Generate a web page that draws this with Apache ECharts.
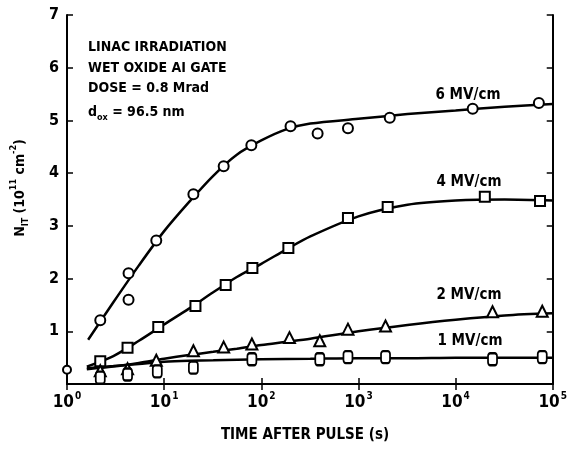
<!DOCTYPE html>
<html><head><meta charset="utf-8">
<script src="https://cdn.jsdelivr.net/npm/echarts@6/dist/echarts.min.js"></script>
<style>html,body{margin:0;padding:0;background:#fff}#c{width:570px;height:456px}</style>
</head><body><div id="c"></div>
<script>
const FONT = '"Liberation Sans Narrow","DejaVu Sans Condensed","Arial Narrow","Liberation Sans",sans-serif';

// tick labels
const xTickExponents = ['0','1','2','3','4','5'];
const yTickLabels = ['', '1', '2', '3', '4', '5', '6', '7'];

// measured points [time (s), N_IT (1e11 cm^-2)]
const pts6MV = [[2.2,1.21],[4.3,2.1],[4.3,1.6],[8.3,2.72],[20,3.6],[41,4.13],[79,4.53],[200,4.89],[380,4.75],[780,4.85],[2100,5.05],[15000,5.22],[72000,5.33]];
const pts4MV = [[2.2,0.43],[4.2,0.69],[8.7,1.08],[21,1.48],[43,1.88],[81,2.2],[190,2.58],[780,3.15],[2000,3.36],[20000,3.55],[74000,3.47]];
const pts2MV = [[2.2,0.25],[4.2,0.29],[8.3,0.45],[20,0.63],[41,0.7],[80,0.76],[195,0.88],[400,0.82],[780,1.04],[1900,1.1],[24000,1.37],[78000,1.38]];
const pts1MV = [[2.2,0.12],[4.2,0.18],[8.5,0.24],[20,0.31],[80,0.47],[400,0.47],[780,0.51],[1900,0.51],[24000,0.47],[78000,0.51]];
const ptsExtra = [[1,0.27]];

// fitted curves
const fit6MV = [[1.65,0.84],[3,1.55],[5.5,2.25],[10,2.9],[18,3.45],[32,3.95],[56,4.35],[100,4.62],[180,4.83],[320,4.94],[1000,5.03],[3200,5.12],[10000,5.19],[32000,5.26],[100000,5.31]];
const fit4MV = [[1.6,0.33],[3,0.53],[5.5,0.82],[10,1.13],[18,1.43],[32,1.74],[56,2.03],[100,2.28],[180,2.55],[320,2.8],[1000,3.18],[3200,3.4],[10000,3.48],[32000,3.5],[100000,3.48]];
const fit2MV = [[1.6,0.28],[3,0.33],[5.5,0.4],[10,0.48],[18,0.55],[32,0.61],[56,0.67],[100,0.74],[180,0.8],[320,0.86],[1000,1.0],[3200,1.12],[10000,1.22],[32000,1.3],[100000,1.34]];
const fit1MV = [[1.6,0.3],[3,0.34],[5.5,0.38],[10,0.42],[18,0.44],[32,0.45],[100,0.47],[320,0.48],[1000,0.49],[3200,0.49],[10000,0.5],[32000,0.5],[100000,0.5]];

const curveLabels = ['6 MV/cm', '4 MV/cm', '2 MV/cm', '1 MV/cm'];
const noteLines = ['LINAC IRRADIATION', 'WET OXIDE AI GATE', 'DOSE = 0.8 Mrad'];
const noteOx = ['d', 'ox', ' = 96.5 nm'];

const chart = echarts.init(document.getElementById('c'));
const markStyle = {color:'#fff', borderColor:'#000', borderWidth:2, opacity:1};
function lineSeries(d){return {type:'line', data:d, smooth:0.3, showSymbol:false, symbol:'none', lineStyle:{color:'#000', width:2.5}, z:2, silent:true};}
function scat(d, sym, size){return {type:'scatter', data:d, symbol:sym, symbolSize:size, itemStyle:markStyle, z:3, clip:false, silent:true};}
const axisLine = {show:true, lineStyle:{color:'#000', width:2}};
const tick = {show:true, inside:true, length:6, lineStyle:{color:'#000', width:1.5}};
const boldNarrow = {fontFamily:FONT, fontWeight:'bold', color:'#000'};

chart.setOption({
  animation:false,
  backgroundColor:'#fff',
  grid:{left:67, top:15, right:13, bottom:72, containLabel:false},
  xAxis:[
    {type:'log', logBase:10, min:1, max:100000, position:'bottom', axisLine, axisTick:tick, splitLine:{show:false}, minorTick:{show:false},
     axisLabel:{margin:7, formatter:v=>'{b|10}{s|'+xTickExponents[Math.round(Math.log10(v))]+'}',
       rich:{b:Object.assign({fontSize:17, lineHeight:20, verticalAlign:'bottom'}, boldNarrow), s:Object.assign({fontSize:10, lineHeight:20, verticalAlign:'top', padding:[0,0,10,1]}, boldNarrow)}}},
    {type:'log', logBase:10, min:1, max:100000, position:'top', axisLine, axisTick:tick, axisLabel:{show:false}, splitLine:{show:false}}
  ],
  yAxis:[
    {type:'value', min:0, max:7, interval:1, position:'left', axisLine, axisTick:tick, splitLine:{show:false},
     axisLabel:Object.assign({fontSize:16, margin:8, formatter:v=>yTickLabels[v]}, boldNarrow)},
    {type:'value', min:0, max:7, interval:1, position:'right', axisLine, axisTick:tick, splitLine:{show:false}, axisLabel:{show:false}}
  ],
  series:[
    lineSeries(fit6MV), lineSeries(fit4MV), lineSeries(fit2MV), lineSeries(fit1MV),
    scat(pts6MV,'circle',10), scat(pts4MV,'rect',10), scat(pts2MV,'triangle',11), scat(pts1MV,'roundRect',[9,12]), scat(ptsExtra,'circle',8)
  ],
  graphic:[
    {type:'text', x:468, y:95, style:Object.assign({text:curveLabels[0], fontSize:15, align:'center', verticalAlign:'middle', fill:'#000'}, boldNarrow)},
    {type:'text', x:469, y:182, style:Object.assign({text:curveLabels[1], fontSize:15, align:'center', verticalAlign:'middle', fill:'#000'}, boldNarrow)},
    {type:'text', x:469, y:295, style:Object.assign({text:curveLabels[2], fontSize:15, align:'center', verticalAlign:'middle', fill:'#000'}, boldNarrow)},
    {type:'text', x:470, y:341, style:Object.assign({text:curveLabels[3], fontSize:15, align:'center', verticalAlign:'middle', fill:'#000'}, boldNarrow)},
    {type:'text', x:88, y:47, style:Object.assign({text:noteLines[0], fontSize:14, verticalAlign:'middle', fill:'#000'}, boldNarrow)},
    {type:'text', x:88, y:68, style:Object.assign({text:noteLines[1], fontSize:14, verticalAlign:'middle', fill:'#000'}, boldNarrow)},
    {type:'text', x:88, y:88, style:Object.assign({text:noteLines[2], fontSize:14, verticalAlign:'middle', fill:'#000'}, boldNarrow)},
    {type:'text', x:88, y:110, style:{text:'{a|'+noteOx[0]+'}{s|'+noteOx[1]+'}{a|'+noteOx[2]+'}', verticalAlign:'middle', fill:'#000',
      rich:{a:Object.assign({fontSize:14, lineHeight:18, verticalAlign:'bottom'}, boldNarrow), s:Object.assign({fontSize:9, lineHeight:18, verticalAlign:'bottom', padding:[0,0,-3,0]}, boldNarrow)}}},
    {type:'text', x:305, y:435, style:Object.assign({text:'TIME AFTER PULSE (s)', fontSize:15, align:'center', verticalAlign:'middle', fill:'#000'}, boldNarrow)},
    {type:'text', x:18, y:188, rotation:Math.PI/2, style:{text:'{n|N}{sub|IT}{n| (10}{sup|11}{n| cm}{sup|-2}{n|)}', align:'center', verticalAlign:'middle', fill:'#000',
      rich:{n:Object.assign({fontSize:14, lineHeight:18, verticalAlign:'bottom'}, boldNarrow), sub:Object.assign({fontSize:9, lineHeight:18, verticalAlign:'bottom', padding:[0,0,-3,0]}, boldNarrow), sup:Object.assign({fontSize:9, lineHeight:18, verticalAlign:'top'}, boldNarrow)}}}
  ]
});
</script>
</body></html>
